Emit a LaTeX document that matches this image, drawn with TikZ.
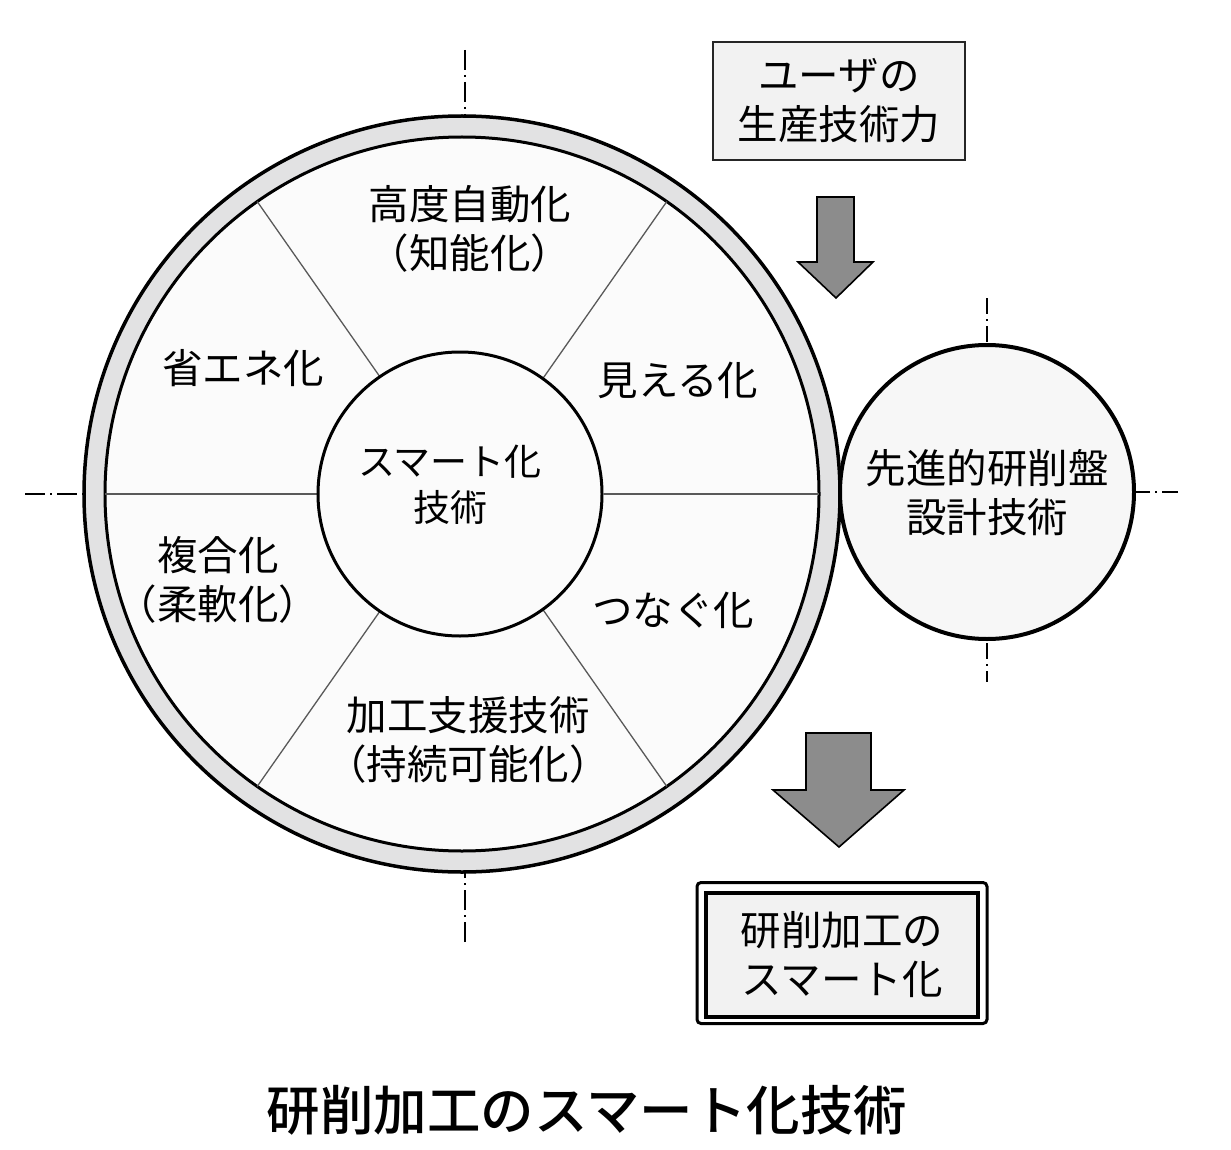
\documentclass[tikz,border=0pt]{standalone}
\usepackage{fontspec}
\setmainfont{Noto Sans CJK JP}
\newfontfamily\titlefont{Noto Sans CJK JP Medium}
\begin{document}
\begin{tikzpicture}[x=1pt,y=-1pt,
  every node/.style={inner sep=0pt,outer sep=0pt},
  lbl/.style={align=center,font=\fontsize{40.5}{49}\selectfont},
  corelbl/.style={align=center,font=\fontsize{37}{46}\selectfont},
  axisline/.style={line width=1.4pt,black,dash pattern=on 20pt off 5pt on 2pt off 5pt},
  sector/.style={line width=1.3pt,black!65},
  blockarrow/.style={draw=black,line width=1.6pt,fill=black!45,line join=miter},
]
\useasboundingbox (0,0) rectangle (1231,1150);
\definecolor{ringgray}{HTML}{E2E2E3}
\definecolor{paper}{HTML}{FBFBFB}
\definecolor{boxgray}{HTML}{F2F2F2}

% big ring
\node[circle,draw,line width=3.5pt,fill=ringgray,minimum size=756pt] (outer) at (462,494) {};
\node[circle,draw,line width=3pt,fill=paper,minimum size=714pt] (inner) at (462,494) {};

% sector lines
\foreach \a in {55,125,-55,-125,0,180}
  \draw[sector] (462,494) ++(-\a:142) -- ++(-\a:215);

% centre circle
\node[circle,draw,line width=3pt,fill=paper,minimum size=284pt] (core) at (460,494) {};
\node[corelbl] (coretext) at (450,485) {スマート化\\技術};

% centre lines of big circle
\coordinate (vt1) at (465,50);
\coordinate (vt2) at (465,116);
\coordinate (vb1) at (465,873);
\coordinate (vb2) at (465,942);
\coordinate (hl1) at (25,494);
\coordinate (hl2) at (84,494);
\draw[axisline] (vt1) -- (vt2);
\draw[axisline] (vb2) -- (vb1);
\draw[axisline] (hl1) -- (hl2);

% sector labels
\node[lbl] (s1) at (470,229) {高度自動化\\（知能化）};
\node[lbl] (s2) at (678,380) {見える化};
\node[lbl] (s3) at (243,368) {省エネ化};
\node[lbl] (s4) at (218,580) {複合化\\（柔軟化）};
\node[lbl] (s5) at (673,610) {つなぐ化};
\node[lbl] (s6) at (468,740) {加工支援技術\\（持続可能化）};

% right circle
\node[circle,draw,line width=4pt,fill=black!3,minimum size=294pt] (machine) at (987,492) {};
\node[lbl] at (987,493) {先進的研削盤\\設計技術};
\coordinate (rv1) at (987,298);
\coordinate (rv2) at (987,343);
\coordinate (rv3) at (987,643);
\coordinate (rv4) at (987,682);
\coordinate (rh1) at (1136,492);
\coordinate (rh2) at (1178,492);
\draw[axisline,dash pattern=on 16pt off 5pt on 2pt off 5pt] (rv1) -- (rv2);
\draw[axisline,dash pattern=on 16pt off 5pt on 2pt off 5pt] (rv3) -- (rv4);
\draw[axisline,dash pattern=on 16pt off 5pt on 2pt off 5pt] (rh2) -- (rh1);

% top box
\node[draw=black!85,line width=1.8pt,fill=boxgray,minimum width=252pt,minimum height=118pt,lbl] (user) at (839,101) {ユーザの\\生産技術力};

% arrow 1
\draw[blockarrow] (817,197) -- (854,197) -- (854,262) -- (873,262) -- (836,298) -- (798,262) -- (817,262) -- cycle;

% arrow 2
\draw[blockarrow] (806,733) -- (871,733) -- (871,790) -- (904,790) -- (839,847) -- (773,790) -- (806,790) -- cycle;

% bottom double box
\node[draw,line width=3pt,rounded corners=4pt,fill=white,minimum width=290pt,minimum height=141pt] (resultouter) at (842,953) {};
\node[draw,line width=4pt,fill=boxgray,minimum width=272pt,minimum height=124pt,lbl] (result) at (842,955) {研削加工の\\スマート化};

% title
\node[font=\fontsize{53.5}{60}\titlefont] (title) at (587,1110) {研削加工のスマート化技術};
\end{tikzpicture}
\end{document}
